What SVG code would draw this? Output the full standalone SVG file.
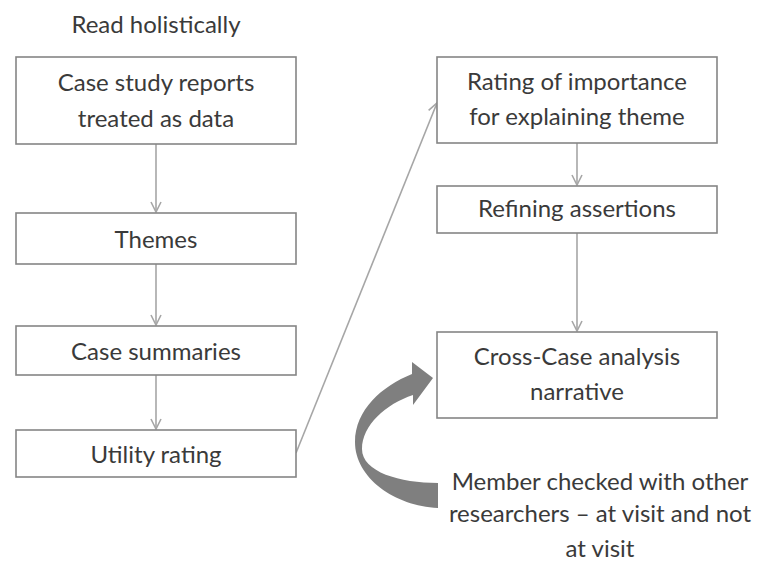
<svg xmlns="http://www.w3.org/2000/svg" width="758" height="563" viewBox="0 0 758 563">
<defs>
<style>
.box{fill:#fff;stroke:#858585;stroke-width:1.6}
.t{font-family:Lato,"Liberation Sans",sans-serif;font-size:24px;fill:#3a3a3a;text-anchor:middle}
.c{fill:none;stroke:#a6a6a6;stroke-width:1.6}
</style>
<marker id="ah" viewBox="0 0 12 12" refX="11" refY="6" markerWidth="12" markerHeight="12" markerUnits="userSpaceOnUse" orient="auto">
<path d="M1,1 L11,6 L1,11" fill="none" stroke="#a6a6a6" stroke-width="1.6"/>
</marker>
</defs>
<rect width="758" height="563" fill="#fff"/>
<text class="t" x="156" y="33">Read holistically</text>
<g id="connectors">
<line class="c" x1="156" y1="144" x2="156" y2="212" marker-end="url(#ah)"/>
<line class="c" x1="156" y1="264" x2="156" y2="325" marker-end="url(#ah)"/>
<line class="c" x1="156" y1="375" x2="156" y2="429" marker-end="url(#ah)"/>
<line class="c" x1="296" y1="453" x2="437" y2="103" marker-end="url(#ah)"/>
<line class="c" x1="577" y1="143" x2="577" y2="185" marker-end="url(#ah)"/>
<line class="c" x1="577" y1="233" x2="577" y2="331" marker-end="url(#ah)"/>
<path id="curved-arrow" d="M438,508 C395,506 355,478 355,442 C355,410 382,386 412,374 L412,362 L433,378 L413,405 L413,395 C386,404 362,425 362,449 C362,472 400,483 438,483 Z" fill="#7f7f7f"/>
</g>
<g id="n1"><rect class="box" x="16" y="57" width="280" height="87"/><text class="t" x="156" y="91">Case study reports</text><text class="t" x="156" y="127">treated as data</text></g>
<g id="n2"><rect class="box" x="16" y="213" width="280" height="51"/><text class="t" x="156" y="248">Themes</text></g>
<g id="n3"><rect class="box" x="16" y="326" width="280" height="49"/><text class="t" x="156" y="360">Case summaries</text></g>
<g id="n4"><rect class="box" x="16" y="430" width="280" height="47"/><text class="t" x="156" y="463">Utility rating</text></g>
<g id="n5"><rect class="box" x="437" y="57" width="280" height="86"/><text class="t" x="577" y="90">Rating of importance</text><text class="t" x="577" y="125">for explaining theme</text></g>
<g id="n6"><rect class="box" x="437" y="186" width="280" height="47"/><text class="t" x="577" y="217">Refining assertions</text></g>
<g id="n7"><rect class="box" x="437" y="332" width="280" height="86"/><text class="t" x="577" y="365">Cross-Case analysis</text><text class="t" x="577" y="400">narrative</text></g>
<g id="note"><text class="t" x="600" y="490">Member checked with other</text><text class="t" x="600" y="522">researchers – at visit and not</text><text class="t" x="600" y="557">at visit</text></g>
</svg>
